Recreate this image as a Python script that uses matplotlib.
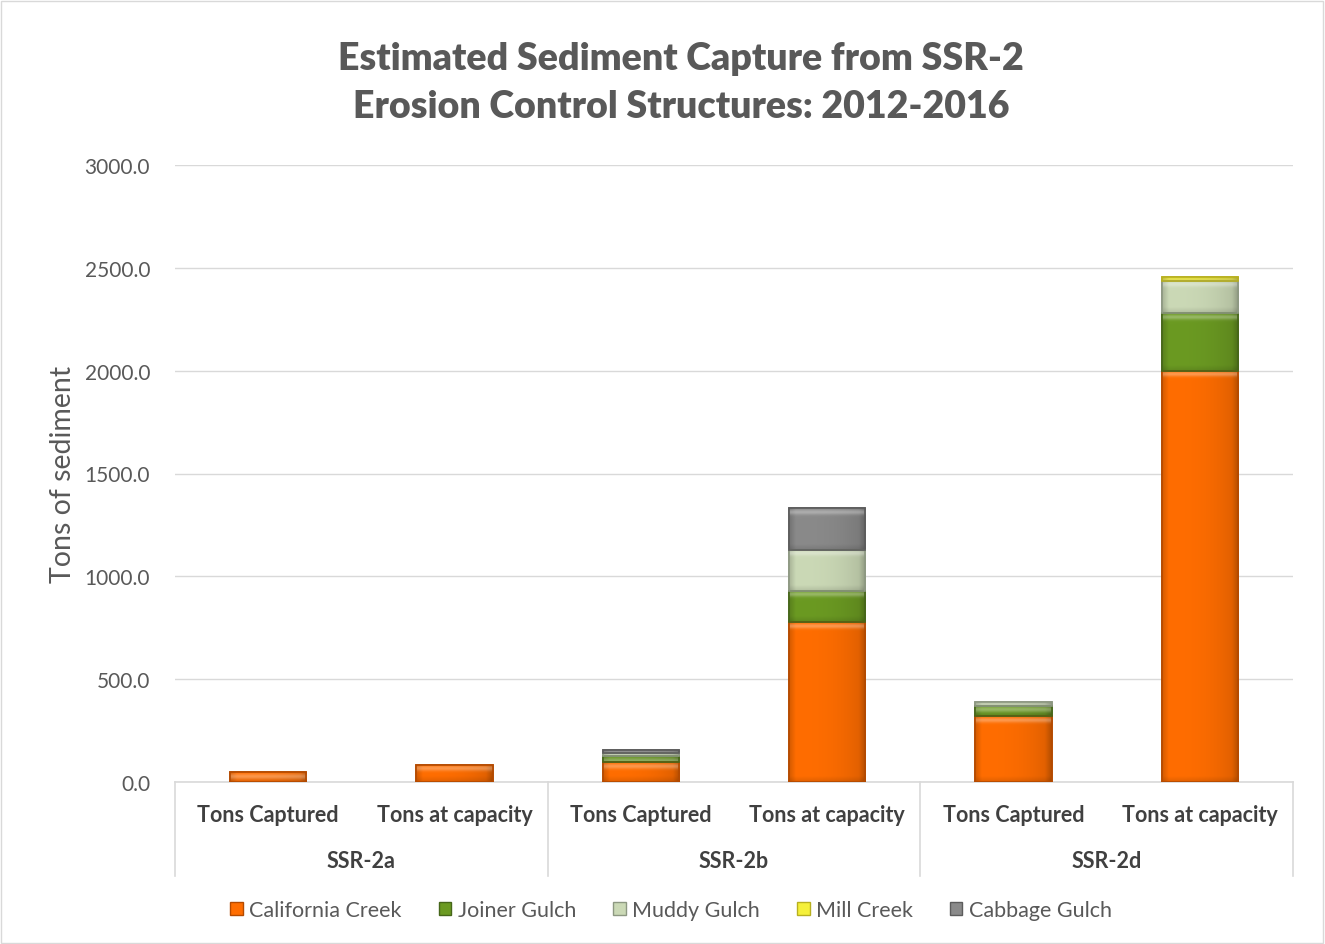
import numpy as np
import matplotlib
matplotlib.use("Agg")
import matplotlib.pyplot as plt
from matplotlib.patches import Patch, Rectangle
from matplotlib.colors import to_rgb

plt.rcParams['font.family'] = ['Lato', 'DejaVu Sans']

# Data
structures = ["SSR-2a", "SSR-2b", "SSR-2d"]
measures = ["Tons Captured", "Tons at capacity"]
series_names = ["California Creek", "Joiner Gulch", "Muddy Gulch", "Mill Creek", "Cabbage Gulch"]
california_creek = [47, 83, 96, 776, 320, 2000]
joiner_gulch = [0, 0, 29, 151, 50, 280]
muddy_gulch = [0, 0, 16, 201, 17, 157]
mill_creek = [0, 0, 0, 0, 0, 16]
cabbage_gulch = [0, 0, 16, 203, 0, 0]
y_ticks = [0, 500, 1000, 1500, 2000, 2500, 3000]

series = [california_creek, joiner_gulch, muddy_gulch, mill_creek, cabbage_gulch]
face_colors = ["#FF6D00", "#6B9A22", "#CBD9B6", "#F5F03A", "#8A8A8A"]
edge_colors = ["#B44A00", "#46661A", "#8D9882", "#B8B020", "#5C5C5C"]

W, H = 1325, 945
fig = plt.figure(figsize=(W / 100, H / 100), dpi=100)
fig.patch.set_facecolor("white")
fig.patches.append(Rectangle((1 / W, 1 / H), 1 - 3 / W, 1 - 3 / H, transform=fig.transFigure,
                             fill=False, edgecolor="#D9D9D9", linewidth=1))

left, right, top, bottom = 175, 1293, 166, 783
ax = fig.add_axes([left / W, 1 - bottom / H, (right - left) / W, (bottom - top) / H])
ymax = 3000
px_per_unit = (bottom - top) / ymax

x = np.arange(len(structures) * len(measures))
bar_w = 0.41
bar_px = bar_w * (right - left) / len(x)
base = np.zeros(len(x))


def shade(color, w_px, h_px):
    """Bevelled shading: lighter centre, darker rim, bright top edge."""
    rgb = np.array(to_rgb(color))
    nx, ny = max(int(w_px), 2), max(int(h_px), 2)
    u = np.arange(nx) + 0.5
    v = np.arange(ny) + 0.5
    U, V = np.meshgrid(u, v)
    d_side = np.minimum(U, nx - U)
    rim = np.minimum(d_side / 7.0, 1.0)
    side = 1 - 0.15 * (U / nx) ** 3
    bottom_dark = 1 - 0.12 * np.clip(1 - (ny - V) / 6.0, 0, 1)
    f = (0.82 + 0.18 * rim) * side * bottom_dark
    img = rgb[None, None, :] * f[..., None]
    top_hl = np.exp(-((V - 4) / 2.5) ** 2) * 0.3
    img = img + (1 - img) * top_hl[..., None]
    return np.clip(img, 0, 1)


for vals, fc, ec in zip(series, face_colors, edge_colors):
    vals = np.array(vals, dtype=float)
    bars = ax.bar(x, vals, bar_w, bottom=base, color=fc, edgecolor=ec, linewidth=1.2, zorder=3)
    for b, v in zip(bars, vals):
        if v <= 0:
            b.set_visible(False)
            continue
        x0, y0 = b.get_x(), b.get_y()
        img = shade(fc, bar_px, b.get_height() * px_per_unit)
        im = ax.imshow(img, extent=[x0, x0 + b.get_width(), y0, y0 + b.get_height()],
                       aspect="auto", origin="upper", zorder=3.5, interpolation="bilinear")
        im.set_clip_path(b)
        ax.add_patch(Rectangle((x0, y0), b.get_width(), b.get_height(), fill=False,
                               edgecolor=ec, linewidth=1.2, zorder=3.6))
    base += vals

ax.set_xlim(-0.5, len(x) - 0.5)
ax.set_ylim(0, ymax)
ax.set_yticks(y_ticks)
ax.set_yticklabels([f"{t:.1f}" for t in y_ticks], fontsize=15, color="#595959")
ax.tick_params(axis="y", length=0, pad=18)
ax.grid(axis="y", color="#D9D9D9", linewidth=1, zorder=0)
for s in ["top", "right", "left"]:
    ax.spines[s].set_visible(False)
ax.spines["bottom"].set_color("#D9D9D9")
ax.spines["bottom"].set_linewidth(1.2)
ax.spines["bottom"].set_zorder(2)

ax.set_xticks([])
ax.set_ylabel("Tons of sediment", fontsize=20.5, color="#595959", labelpad=6)

# Two-level category axis
xt = ax.get_xaxis_transform()
axis_h = bottom - top
inner_y = -(815 - bottom) / axis_h
outer_y = -(862 - bottom) / axis_h
sep_y = -(877 - bottom) / axis_h
for i, xi in enumerate(x):
    ax.text(xi, inner_y, measures[i % len(measures)], transform=xt, ha="center", va="center",
            fontsize=15.5, fontweight="bold", color="#404040")
for g, name in enumerate(structures):
    center = g * len(measures) + (len(measures) - 1) / 2
    ax.text(center, outer_y, name, transform=xt, ha="center", va="center",
            fontsize=15.5, fontweight="bold", color="#404040")
for g in range(len(structures) + 1):
    xs = g * len(measures) - 0.5
    ax.plot([xs, xs], [0, sep_y], transform=xt, color="#D9D9D9", linewidth=1.2, clip_on=False)

fig.text(681 / W, 1 - 83 / H, "Estimated Sediment Capture from SSR-2\nErosion Control Structures: 2012-2016",
         ha="center", va="center", fontsize=27, fontweight="heavy", color="#595959", linespacing=1.5)

handles = [Patch(facecolor=fc, edgecolor=ec, label=n) for n, fc, ec in zip(series_names, face_colors, edge_colors)]
fig.legend(handles=handles, loc="center", bbox_to_anchor=(671 / W, 1 - 911 / H), ncol=5, frameon=False,
           fontsize=15.5, handlelength=0.6, handleheight=0.6, handletextpad=0.3, columnspacing=1.7,
           labelcolor="#595959")

fig.savefig("out.png", dpi=100, facecolor="white")
